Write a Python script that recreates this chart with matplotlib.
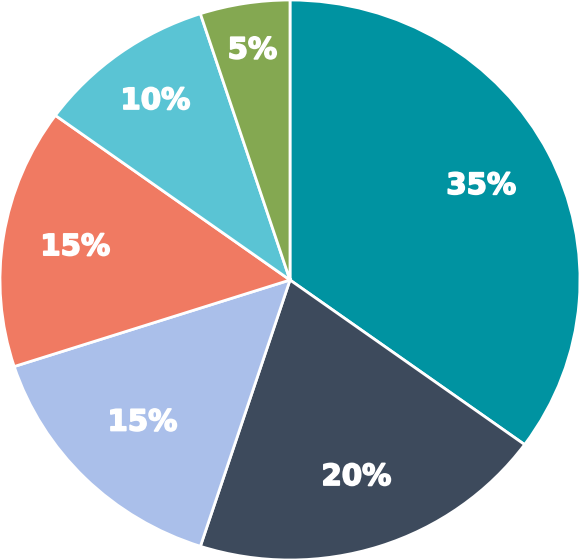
import numpy as np
import matplotlib.pyplot as plt
import matplotlib
import matplotlib.patheffects as pe
matplotlib.rcParams['font.family'] = ['DejaVu Sans']

shares = [35, 20, 15, 15, 10, 5]
labels = ["35%", "20%", "15%", "15%", "10%", "5%"]
colors = ["#0093a1", "#3d4a5c", "#aabfea", "#f07a62", "#5ac4d4", "#84a851"]
label_r = [0.74, 0.74, 0.72, 0.75, 0.79, 0.83]

fig = plt.figure(figsize=(5.8, 5.6), dpi=100)
ax = fig.add_axes([0, 0, 1, 1])

wedges, _ = ax.pie(shares, colors=colors, startangle=90, counterclock=False,
                   radius=1.0, center=(0, 0),
                   wedgeprops=dict(edgecolor="white", linewidth=2))

for w, lab, r in zip(wedges, labels, label_r):
    mid = np.deg2rad((w.theta1 + w.theta2) / 2)
    ax.text(r * np.cos(mid), r * np.sin(mid), lab, ha="center", va="center",
            color="white", fontsize=21, fontweight="heavy",
            path_effects=[pe.withStroke(linewidth=1.2, foreground="white")])

ax.set_xlim(-1.0, 1.0)
ax.set_ylim(-1.0, 1.0)
ax.set_aspect("auto")
ax.axis("off")
fig.savefig("out.png", dpi=100)
